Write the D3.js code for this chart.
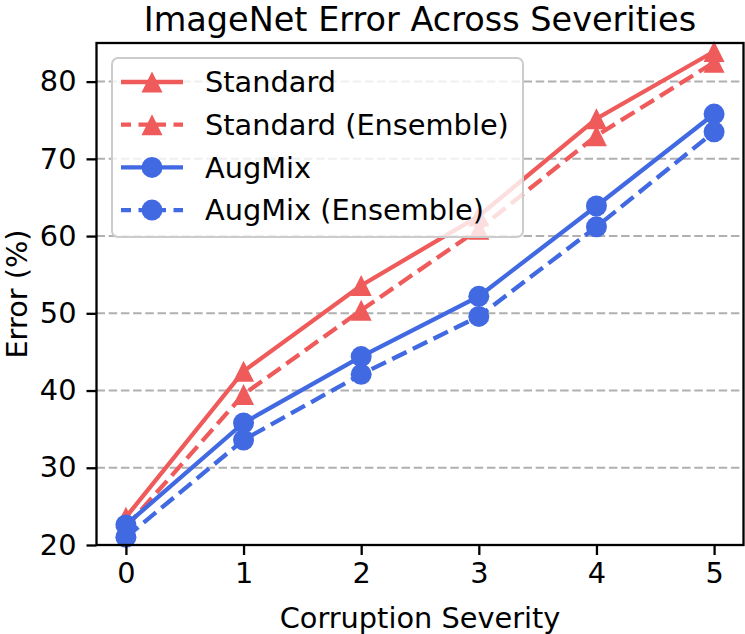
<!DOCTYPE html>
<html>
<head>
<meta charset="utf-8">
<script src="https://cdn.jsdelivr.net/npm/d3@7"></script>
<style>
  body { margin: 0; background: #fff; }
  text { font-family: "DejaVu Sans", sans-serif; fill: #000; }
</style>
</head>
<body>
<div id="chart"></div>
<script>
// data
var severities = [0, 1, 2, 3, 4, 5];
var standard = [23.6, 42.5, 53.6, 62.6, 75.2, 83.9];
var standardEnsemble = [22.3, 39.5, 50.4, 60.9, 73.0, 82.5];
var augmix = [22.6, 35.8, 44.4, 52.2, 63.9, 75.8];
var augmixEnsemble = [21.0, 33.6, 42.1, 49.6, 61.2, 73.5];
var yTicks = [20, 30, 40, 50, 60, 70, 80];
var seriesNames = ["Standard", "Standard (Ensemble)", "AugMix", "AugMix (Ensemble)"];

(function () {
  const Red = "#ef5b5b";
  const Blue = "#4169e1";

  var width = 745;
  var height = 634;
  var margin = { top: 43, right: 1.5, bottom: 89, left: 96.5 };

  var svg = d3
    .select("#chart")
    .append("svg")
    .attr("width", width)
    .attr("height", height);

  // scales, with matplotlib-like padding on x
  var x = d3
    .scaleLinear()
    .domain([-0.25, 5.25])
    .range([margin.left, width - margin.right]);

  var y = d3
    .scaleLinear()
    .domain([20, 85])
    .range([height - margin.bottom, margin.top]);

  // dashed horizontal grid
  svg
    .append("g")
    .selectAll("line")
    .data(yTicks)
    .enter()
    .append("line")
    .attr("x1", x.range()[0])
    .attr("x2", x.range()[1])
    .attr("y1", function (d) { return y(d); })
    .attr("y2", function (d) { return y(d); })
    .attr("stroke", "#b0b0b0")
    .attr("stroke-width", 2)
    .attr("stroke-dasharray", "8.5,3.7");

  var series = [
    { name: seriesNames[0], values: standard, color: Red, dash: null, marker: "triangle" },
    { name: seriesNames[1], values: standardEnsemble, color: Red, dash: "16,7", marker: "triangle" },
    { name: seriesNames[2], values: augmix, color: Blue, dash: null, marker: "circle" },
    { name: seriesNames[3], values: augmixEnsemble, color: Blue, dash: "16,7", marker: "circle" },
  ];

  var line = d3
    .line()
    .x(function (d, i) { return x(severities[i]); })
    .y(function (d) { return y(d); });

  var triangle = "M0,-10.5L10.5,10.5L-10.5,10.5Z";

  function drawMarker(g, s, cx, cy) {
    if (s.marker === "circle") {
      g.append("circle")
        .attr("cx", cx)
        .attr("cy", cy)
        .attr("r", 10.5)
        .attr("fill", s.color);
    } else {
      g.append("path")
        .attr("d", triangle)
        .attr("transform", "translate(" + cx + "," + cy + ")")
        .attr("fill", s.color);
    }
  }

  // lines and markers
  series.forEach(function (s) {
    var g = svg.append("g");
    g.append("path")
      .datum(s.values)
      .attr("d", line)
      .attr("fill", "none")
      .attr("stroke", s.color)
      .attr("stroke-width", 4.3)
      .attr("stroke-dasharray", s.dash);
    s.values.forEach(function (v, i) {
      drawMarker(g, s, x(severities[i]), y(v));
    });
  });

  // legend
  var legend = svg.append("g");
  legend
    .append("rect")
    .attr("x", 112)
    .attr("y", 58)
    .attr("width", 411)
    .attr("height", 179)
    .attr("rx", 6)
    .attr("fill", "rgba(255,255,255,0.8)")
    .attr("stroke", "#cccccc")
    .attr("stroke-width", 2);

  series.forEach(function (s, i) {
    var ry = 82 + i * 42.7;
    legend
      .append("line")
      .attr("x1", 121)
      .attr("x2", 183)
      .attr("y1", ry)
      .attr("y2", ry)
      .attr("stroke", s.color)
      .attr("stroke-width", 4.3)
      .attr("stroke-dasharray", s.dash ? "10,7.5" : null);
    drawMarker(legend, s, 152, ry);
    legend
      .append("text")
      .attr("x", 205)
      .attr("y", ry)
      .attr("dy", "0.36em")
      .style("font-size", "28.8px")
      .text(s.name);
  });

  // x-axis
  var xAxis = svg
    .append("g")
    .attr("transform", "translate(0," + (height - margin.bottom) + ")")
    .call(d3.axisBottom(x).tickValues(severities).tickSize(10).tickPadding(8).tickFormat(d3.format("d")));
  xAxis.select(".domain").remove();
  xAxis.selectAll("line").attr("stroke-width", 2.3);
  xAxis.selectAll("text").style("font-size", "28.8px");

  // y-axis
  var yAxis = svg
    .append("g")
    .attr("transform", "translate(" + margin.left + ",0)")
    .call(d3.axisLeft(y).tickValues(yTicks).tickSize(10).tickPadding(10));
  yAxis.select(".domain").remove();
  yAxis.selectAll("line").attr("stroke-width", 2.3);
  yAxis.selectAll("text").style("font-size", "28.8px");

  // spines
  svg
    .append("rect")
    .attr("x", x.range()[0])
    .attr("y", margin.top)
    .attr("width", x.range()[1] - x.range()[0])
    .attr("height", height - margin.bottom - margin.top)
    .attr("fill", "none")
    .attr("stroke", "#000")
    .attr("stroke-width", 2.3);

  // axis labels and title
  svg
    .append("text")
    .attr("x", (x.range()[0] + x.range()[1]) / 2)
    .attr("y", 628)
    .attr("text-anchor", "middle")
    .style("font-size", "28.8px")
    .text("Corruption Severity");

  svg
    .append("text")
    .attr("transform", "translate(27," + (margin.top + height - margin.bottom) / 2 + ") rotate(-90)")
    .attr("text-anchor", "middle")
    .style("font-size", "28.8px")
    .text("Error (%)");

  svg
    .append("text")
    .attr("x", (x.range()[0] + x.range()[1]) / 2)
    .attr("y", 31)
    .attr("text-anchor", "middle")
    .style("font-size", "33.5px")
    .text("ImageNet Error Across Severities");
})();
</script>
</body>
</html>
